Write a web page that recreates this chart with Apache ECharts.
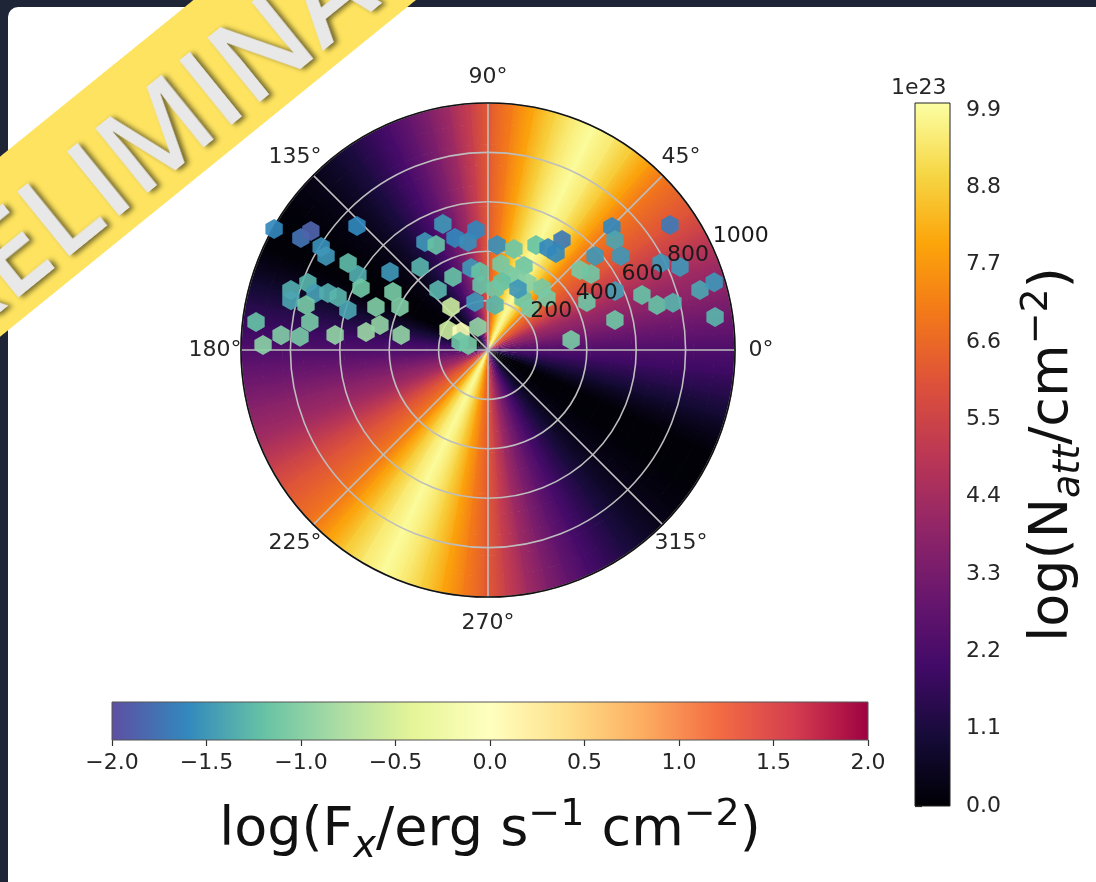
<!DOCTYPE html>
<html>
<head>
<meta charset="utf-8">
<title>Attenuating column vs. X-ray flux</title>
<script src="https://cdn.jsdelivr.net/npm/echarts/dist/echarts.min.js"></script>
<style>
  html, body { margin: 0; padding: 0; }
  body { width: 1096px; height: 882px; overflow: hidden; position: relative; background: #1e2536; }
  #panel { position: absolute; left: 8px; top: 7px; right: 0; bottom: 0; background: #ffffff; border-top-left-radius: 10px; }
  #chart { position: absolute; left: 0; top: 0; width: 1096px; height: 882px; }
  #banner {
    position: absolute; left: -325px; top: 35px; width: 1000px; height: 140px;
    box-sizing: border-box; padding: 12px 30px 0 0;
    transform: rotate(-39deg); transform-origin: 50% 50%;
    background: #fde35f; display: flex; align-items: center; justify-content: center;
    font-family: 'Open Sans', 'DejaVu Sans', sans-serif; font-weight: 600; font-size: 116px;
    color: #e8e8e8; text-shadow: 3px 3px 5px rgba(0,0,0,0.55); letter-spacing: 1px;
    white-space: nowrap;
  }
</style>
</head>
<body>
<div id="panel"></div>
<div id="chart"></div>
<div id="banner">PRELIMINARY</div>
<script>
// ---- axis ticks ----
const angleTicks = [0, 45, 90, 135, 180, 225, 270, 315];
const radiusTicks = [200, 400, 600, 800, 1000];
const nattTicks = [0.0, 1.1, 2.2, 3.3, 4.4, 5.5, 6.6, 7.7, 8.8, 9.9];
const fluxTicks = [-2.0, -1.5, -1.0, -0.5, 0.0, 0.5, 1.0, 1.5, 2.0];

// ---- attenuating column by azimuth (units of 1e23 cm^-2), every 5 degrees ----
const bgAngles = [
  0, 5, 10, 15, 20, 25, 30, 35, 40, 45, 50, 55, 60, 65, 70, 75, 80, 85,
  90, 95, 100, 105, 110, 115, 120, 125, 130, 135, 140, 145, 150, 155, 160, 165, 170, 175,
  180, 185, 190, 195, 200, 205, 210, 215, 220, 225, 230, 235, 240, 245, 250, 255, 260, 265,
  270, 275, 280, 285, 290, 295, 300, 305, 310, 315, 320, 325, 330, 335, 340, 345, 350, 355
];
const bgNatt = [
  2.3, 2.8, 3.3, 3.8, 4.2, 4.8, 5.5, 6.1, 6.5, 7.0, 7.9, 8.8, 9.5, 9.9, 9.5, 8.8, 7.9, 7.0,
  6.2, 5.2, 4.2, 3.4, 2.7, 2.1, 1.6, 1.1, 0.7, 0.4, 0.2, 0.1, 0.05, 0.05, 0.4, 0.9, 1.4, 1.9,
  2.3, 2.8, 3.3, 3.8, 4.2, 4.8, 5.5, 6.1, 6.5, 7.0, 7.9, 8.8, 9.5, 9.9, 9.5, 8.8, 7.9, 7.0,
  6.2, 5.2, 4.2, 3.4, 2.7, 2.1, 1.6, 1.1, 0.7, 0.4, 0.2, 0.1, 0.05, 0.05, 0.4, 0.9, 1.4, 1.9
];
const nattMax = 10;

// ---- sources: azimuth (deg), distance, log X-ray flux ----
const srcAngle = [
  150.5, 149.1, 146.1, 148.3, 149.9, 136.6, 148.1, 141.5, 150.0, 154.0,
  163.1, 159.6, 161.8, 160.4, 160.5, 165.8, 166.1, 164.1, 159.0, 148.6,
  153.9, 173.1, 171.1, 175.9, 176.0, 178.7, 174.4, 171.6, 167.0, 170.2,
  129.3, 120.3, 116.3, 109.7, 106.4, 100.5, 95.7, 115.6, 129.8, 101.7,
  105.2, 130.7, 153.4, 146.3, 113.5, 166.0, 96.1, 95.9, 163.5,
  85.1, 75.6, 65.4, 59.5, 56.1, 55.0, 81.4, 66.8, 73.7, 68.1,
  59.2, 78.4, 48.9, 41.4, 83.5, 81.2, 55.5, 45.0, 63.8, 41.0,
  36.4, 41.3, 44.8, 40.9, 35.3, 24.9, 25.9, 13.3, 19.7, 14.9,
  14.3, 26.7, 23.4, 34.5, 15.8, 16.7, 8.3, 6.9
];
const srcRadius = [
  995, 883, 864, 794, 758, 730, 667, 507, 608, 572,
  834, 778, 737, 688, 644, 823, 759, 590, 486, 451,
  397, 946, 730, 840, 763, 911, 622, 499, 449, 357,
  434, 506, 474, 542, 473, 445, 488, 328, 316, 339,
  201, 230, 181, 131, 102, 83, 265, 318, 118,
  427, 422, 467, 479, 537, 480, 352, 370, 316, 314,
  316, 281, 333, 318, 249, 184, 250, 240, 275, 494,
  518, 577, 707, 680, 659, 567, 445, 528, 662, 708,
  773, 784, 847, 894, 892, 956, 929, 339
];
const srcFlux = [
  -1.6, -1.75, -1.85, -1.55, -1.5, -1.6, -1.25, -1.5, -1.35, -1.15,
  -1.35, -1.3, -1.45, -1.35, -1.3, -1.4, -1.1, -1.4, -1.05, -1.1,
  -1.05, -1.2, -1.1, -1.05, -1.1, -1.0, -0.95, -0.9, -0.95, -0.95,
  -1.3, -1.5, -1.2, -1.5, -1.6, -1.55, -1.6, -1.2, -1.3, -1.5,
  -1.5, -0.6, -0.6, -0.1, -0.95, -1.1, -1.2, -1.2, -1.15,
  -1.55, -1.15, -1.2, -1.6, -1.7, -1.6, -1.1, -1.15, -1.1, -1.05,
  -1.0, -1.2, -1.1, -1.1, -1.15, -1.3, -1.15, -1.1, -1.5, -1.1,
  -1.15, -1.5, -1.6, -1.4, -1.5, -1.45, -1.15, -1.15, -1.2, -1.2,
  -1.3, -1.5, -1.5, -1.7, -1.4, -1.5, -1.3, -1.1
];

// ---- colormaps ----
const INFERNO = ['#000004', '#160b39', '#420a68', '#6a176e', '#932667', '#bc3754',
                 '#dd513a', '#f37819', '#fca50a', '#f6d746', '#fcffa4'];
const SPECTRAL_R = ['#5e4fa2', '#3288bd', '#66c2a5', '#abdda4', '#e6f598', '#ffffbf',
                    '#fee08b', '#fdae61', '#f46d43', '#d53e4f', '#9e0142'];

function hexRgb(h) { return [1, 3, 5].map(k => parseInt(h.slice(k, k + 2), 16)); }
function cmap(stops, t) {
  t = Math.max(0, Math.min(1, t));
  const x = t * (stops.length - 1);
  const i = Math.min(Math.floor(x), stops.length - 2);
  const f = x - i;
  const a = hexRgb(stops[i]), b = hexRgb(stops[i + 1]);
  const c = a.map((v, k) => Math.round(v + (b[k] - v) * f));
  return 'rgb(' + c.join(',') + ')';
}
function gradientStops(stops) {
  return stops.map((c, k) => ({ offset: k / (stops.length - 1), color: c }));
}

const FONT = 'DejaVu Sans';
const TICK_FS = 22;
const HEX = 'path://M0,-1 L0.866,-0.5 L0.866,0.5 L0,1 L-0.866,0.5 L-0.866,-0.5 Z';
const RINGS = 12;        // radial pieces per wedge keep the angular shading smooth near the pole
const WEDGE_OVERLAP = 0.015;  // radians each wedge reaches back under its neighbour

const titleRich = {
  n: { fontFamily: FONT, fontSize: 54, lineHeight: 70, color: '#111' },
  sub: { fontFamily: FONT, fontSize: 38, fontStyle: 'italic', verticalAlign: 'bottom', lineHeight: 38, color: '#111' },
  sup: { fontFamily: FONT, fontSize: 38, verticalAlign: 'top', lineHeight: 38, color: '#111' }
};

const chart = echarts.init(document.getElementById('chart'), null, { renderer: 'canvas' });

const option = {
  backgroundColor: 'transparent',
  animation: false,
  textStyle: { fontFamily: FONT },
  title: {
    text: '1e23', left: 886, top: 72,
    textStyle: { fontFamily: FONT, fontSize: TICK_FS, fontWeight: 'normal', color: '#262626' }
  },
  polar: [
    { center: [488, 350], radius: 247 },   // map + sources
    { center: [488, 350], radius: 247 },   // radial tick labels along 22.5 deg
    { center: [488, 350], radius: 273 }    // azimuth tick labels just outside the rim
  ],
  angleAxis: [
    {
      polarIndex: 0, type: 'value', min: 0, max: 360, interval: 45,
      startAngle: 0, clockwise: false, z: 3,
      axisLine: { show: true, lineStyle: { color: '#111', width: 1.6 } },
      axisTick: { show: false },
      splitLine: { show: true, lineStyle: { color: '#bdbdbd', width: 1.6 } },
      axisLabel: { show: false }
    },
    {
      polarIndex: 1, type: 'value', min: 0, max: 360, startAngle: 22.5, clockwise: false,
      axisLine: { show: false }, axisTick: { show: false },
      axisLabel: { show: false }, splitLine: { show: false }
    },
    {
      polarIndex: 2, type: 'value', min: 0, max: 360, startAngle: 0, clockwise: false,
      axisLine: { show: false }, axisTick: { show: false },
      axisLabel: { show: false }, splitLine: { show: false }
    }
  ],
  radiusAxis: [
    {
      polarIndex: 0, type: 'value', min: 0, max: 1000, interval: 200, z: 3,
      axisLine: { show: false }, axisTick: { show: false }, axisLabel: { show: false },
      splitLine: { show: true, lineStyle: { color: '#bdbdbd', width: 1.6 } }
    },
    {
      polarIndex: 1, type: 'value', min: 0, max: 1000, interval: 200, z: 6,
      axisLine: { show: false }, axisTick: { show: false }, splitLine: { show: false },
      axisLabel: {
        show: true, customValues: radiusTicks,
        fontFamily: FONT, fontSize: TICK_FS, color: '#1a1a1a', margin: 9,
        align: 'left', verticalAlign: 'bottom',
        formatter: v => String(v)
      }
    },
    {
      polarIndex: 2, type: 'value', min: 0, max: 1,
      axisLine: { show: false }, axisTick: { show: false },
      axisLabel: { show: false }, splitLine: { show: false }
    }
  ],
  grid: [
    { left: 112, top: 702, width: 756, height: 38 },
    { left: 915, top: 103, width: 35, height: 703 }
  ],
  xAxis: [
    {
      gridIndex: 0, type: 'value', min: -2, max: 2, interval: 0.5,
      axisLine: { show: false },
      axisTick: { show: true, length: 6, customValues: fluxTicks, lineStyle: { color: '#333', width: 1.2 } },
      splitLine: { show: false },
      axisLabel: {
        customValues: fluxTicks, fontFamily: FONT, fontSize: TICK_FS, color: '#262626', margin: 12,
        formatter: v => v.toFixed(1).replace('-', '\u2212')
      },
      name: '{n|log(F}{sub|x}{n|/erg s}{sup|\u22121}{n| cm}{sup|\u22122}{n|)}',
      nameLocation: 'middle', nameGap: 56,
      nameTextStyle: { color: '#111', rich: titleRich }
    },
    { gridIndex: 1, type: 'value', min: 0, max: 1, show: false }
  ],
  yAxis: [
    { gridIndex: 0, type: 'value', min: 0, max: 1, show: false },
    {
      gridIndex: 1, type: 'value', min: 0, max: nattMax, position: 'right',
      axisLine: { show: false },
      axisTick: { show: true, length: 7, customValues: nattTicks, lineStyle: { color: '#333', width: 1.2 } },
      splitLine: { show: false },
      axisLabel: {
        customValues: nattTicks, fontFamily: FONT, fontSize: TICK_FS, color: '#262626', margin: 16,
        formatter: v => v.toFixed(1)
      },
      name: '{n|log(N}{sub|att}{n|/cm}{sup|\u22122}{n|)}',
      nameLocation: 'middle', nameRotate: 90, nameGap: 68,
      nameTextStyle: { color: '#111', rich: titleRich }
    }
  ],
  visualMap: [
    {
      type: 'continuous', show: false, seriesIndex: 1, dimension: 2,
      min: fluxTicks[0], max: fluxTicks[fluxTicks.length - 1],
      inRange: { color: SPECTRAL_R }
    }
  ],
  series: [
    {
      // azimuthal column-density map, one wedge per 5-degree reading
      type: 'custom', coordinateSystem: 'polar', polarIndex: 0, z: 1, silent: true,
      data: bgAngles.map((a, i) => [1000, a, bgNatt[i]]),
      renderItem: function (params, api) {
        const i = params.dataIndex;
        const j = (i + 1) % bgAngles.length;
        const a0 = api.value(1);
        const a1 = j === 0 ? 360 : bgAngles[j];
        const c = api.coord([0, a0]);
        const p0 = api.coord([1000, a0]);
        const p1 = api.coord([1000, a1]);
        const R = Math.hypot(p0[0] - c[0], p0[1] - c[1]);
        const sEnd = Math.atan2(p0[1] - c[1], p0[0] - c[0]);
        let sStart = Math.atan2(p1[1] - c[1], p1[0] - c[0]);
        while (sStart > sEnd) sStart -= 2 * Math.PI;
        while (sEnd - sStart > Math.PI) sStart += 2 * Math.PI;
        const c0 = cmap(INFERNO, api.value(2) / nattMax);
        const c1 = cmap(INFERNO, bgNatt[j] / nattMax);
        const children = [];
        for (let k = 0; k < RINGS; k++) {
          const f = (k + 1) / RINGS;
          const q0 = [c[0] + (p0[0] - c[0]) * f, c[1] + (p0[1] - c[1]) * f];
          const q1 = [c[0] + (p1[0] - c[0]) * f, c[1] + (p1[1] - c[1]) * f];
          children.push({
            type: 'sector',
            shape: {
              cx: c[0], cy: c[1],
              r0: Math.max(0, R * k / RINGS - 0.6), r: R * f,
              startAngle: sStart - 0.002, endAngle: sEnd + WEDGE_OVERLAP, clockwise: true
            },
            style: {
              fill: new echarts.graphic.LinearGradient(q0[0], q0[1], q1[0], q1[1],
                [{ offset: 0, color: c0 }, { offset: 1, color: c1 }], true),
              stroke: null
            }
          });
        }
        return { type: 'group', children: children };
      }
    },
    {
      type: 'scatter', coordinateSystem: 'polar', polarIndex: 0, z: 5, silent: true,
      symbol: HEX, symbolSize: 20, symbolKeepAspect: true,
      itemStyle: { opacity: 0.92 },
      data: srcAngle.map((a, i) => [srcRadius[i], a, srcFlux[i]])
    },
    {
      // horizontal colour bar for the source flux
      type: 'custom', coordinateSystem: 'cartesian2d', xAxisIndex: 0, yAxisIndex: 0, silent: true,
      data: [[fluxTicks[0], 0]],
      renderItem: function (params, api) {
        const a = api.coord([fluxTicks[0], 0]);
        const b = api.coord([fluxTicks[fluxTicks.length - 1], 1]);
        return {
          type: 'rect',
          shape: { x: a[0], y: b[1], width: b[0] - a[0], height: a[1] - b[1] },
          style: { fill: new echarts.graphic.LinearGradient(0, 0, 1, 0, gradientStops(SPECTRAL_R)), stroke: '#555', lineWidth: 1 }
        };
      }
    },
    {
      // vertical colour bar for the attenuating column
      type: 'custom', coordinateSystem: 'cartesian2d', xAxisIndex: 1, yAxisIndex: 1, silent: true,
      data: [[0, 0]],
      renderItem: function (params, api) {
        const a = api.coord([0, 0]);
        const b = api.coord([1, nattMax]);
        return {
          type: 'rect',
          shape: { x: a[0], y: b[1], width: b[0] - a[0], height: a[1] - b[1] },
          style: { fill: new echarts.graphic.LinearGradient(0, 1, 0, 0, gradientStops(INFERNO)), stroke: '#222', lineWidth: 1 }
        };
      }
    },
    {
      // azimuth tick labels, centred just outside the rim
      type: 'scatter', coordinateSystem: 'polar', polarIndex: 2, z: 6, silent: true,
      symbol: 'circle', symbolSize: 1, itemStyle: { color: 'rgba(0,0,0,0)', opacity: 1 },
      data: angleTicks.map(a => [1, a]),
      label: {
        show: true, position: 'inside', align: 'center', verticalAlign: 'middle', opacity: 1,
        fontFamily: FONT, fontSize: TICK_FS, color: '#262626', textBorderWidth: 0,
        formatter: p => p.value[1] + '\u00b0'
      }
    }
  ]
};

chart.setOption(option);
</script>
</body>
</html>
